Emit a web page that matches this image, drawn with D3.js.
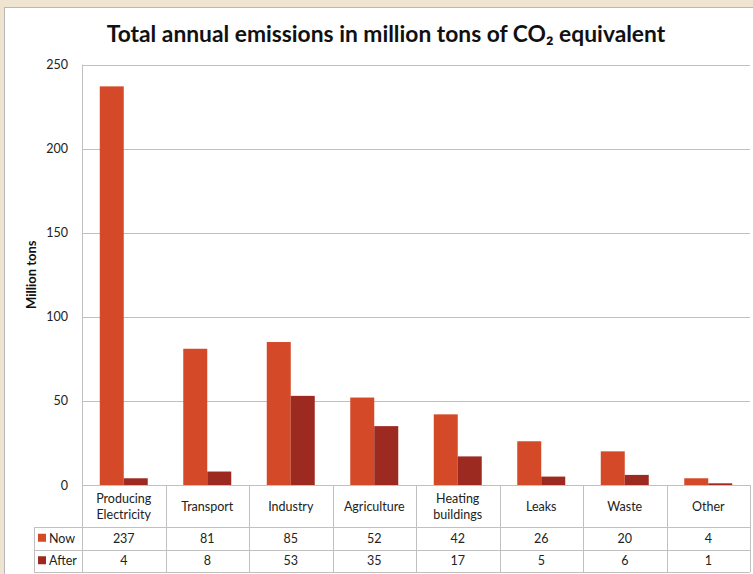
<!DOCTYPE html>
<html lang="en">
<head>
  <meta charset="UTF-8">
  <title>Total annual emissions</title>
  <script src="https://d3js.org/d3.v7.min.js"></script>
  <style>
    html, body { margin: 0; padding: 0; background: #efe4cf; }
    svg { display: block; font-family: Lato, "Open Sans", sans-serif; }
  </style>
</head>
<body>
  <div id="viz"></div>
  <script>
    // Data
    const categories = ['Producing Electricity', 'Transport', 'Industry', 'Agriculture',
                        'Heating buildings', 'Leaks', 'Waste', 'Other'];
    const nowValues = [237, 81, 85, 52, 42, 26, 20, 4];
    const afterValues = [4, 8, 53, 35, 17, 5, 6, 1];
    const seriesNames = ['Now', 'After'];
    const yTicks = [0, 50, 100, 150, 200, 250];

    const width = 753, height = 574;
    const plot = {left: 82, right: 750, top: 64.5, bottom: 485};
    const rows = {header: 527, now: 549.5, after: 572};
    const legendLeft = 34;
    const colors = {Now: '#d44a28', After: '#9c2a21'};
    const gridColor = '#c0c0c0';

    const svg = d3.select('#viz').append('svg')
      .attr('width', width)
      .attr('height', height);

    // background + white panel
    svg.append('rect').attr('width', width).attr('height', height).attr('fill', '#efe4cf');
    svg.append('rect')
      .attr('x', 4.5).attr('y', 7.5)
      .attr('width', width).attr('height', height)
      .attr('fill', '#fff').attr('stroke', '#b8b8b8');

    // Scales
    const x = d3.scaleBand().domain(categories).range([plot.left, plot.right]).padding(0);
    const xSub = d3.scaleBand().domain(seriesNames).range([0, x.bandwidth()])
      .paddingInner(0).paddingOuter(0.74);
    const y = d3.scaleLinear().domain([0, 250]).range([plot.bottom, plot.top]);

    // Gridlines
    svg.append('g')
      .selectAll('line')
      .data(yTicks)
      .join('line')
      .attr('x1', plot.left).attr('x2', plot.right)
      .attr('y1', d => Math.round(y(d)) + 0.5).attr('y2', d => Math.round(y(d)) + 0.5)
      .attr('stroke', gridColor);

    // Y axis labels
    const yAxis = svg.append('g')
      .attr('transform', `translate(${plot.left - 14},0)`)
      .call(d3.axisLeft(y).tickValues(yTicks).tickSize(0).tickPadding(0));
    yAxis.select('.domain').remove();
    yAxis.selectAll('text')
      .attr('font-family', 'Lato, sans-serif')
      .attr('font-size', 12.5)
      .attr('fill', '#222');

    svg.append('text')
      .attr('transform', `translate(36,${(plot.top + plot.bottom) / 2}) rotate(-90)`)
      .attr('text-anchor', 'middle')
      .attr('font-size', 13)
      .attr('font-weight', 'bold')
      .attr('fill', '#111')
      .text('Million tons');

    // Bars
    const barData = categories.flatMap((c, i) => [
      {cat: c, series: 'Now', value: nowValues[i]},
      {cat: c, series: 'After', value: afterValues[i]}
    ]);
    svg.append('g')
      .selectAll('rect')
      .data(barData)
      .join('rect')
      .attr('x', d => x(d.cat) + xSub(d.series))
      .attr('y', d => y(d.value))
      .attr('width', xSub.bandwidth())
      .attr('height', d => y(0) - y(d.value))
      .attr('fill', d => colors[d.series]);

    // Data table lines
    const table = svg.append('g').attr('stroke', gridColor).attr('fill', 'none');
    table.append('line')
      .attr('x1', plot.left + 0.5).attr('x2', plot.left + 0.5)
      .attr('y1', plot.top).attr('y2', rows.after);
    categories.forEach(c => {
      const xr = Math.round(x(c) + x.bandwidth()) + 0.5;
      table.append('line').attr('x1', xr).attr('x2', xr)
        .attr('y1', plot.bottom).attr('y2', rows.after);
    });
    [rows.header, rows.now, rows.after].forEach(r => {
      table.append('line')
        .attr('x1', legendLeft).attr('x2', plot.right)
        .attr('y1', Math.round(r) + 0.5).attr('y2', Math.round(r) + 0.5);
    });
    table.append('line')
      .attr('x1', legendLeft + 0.5).attr('x2', legendLeft + 0.5)
      .attr('y1', rows.header).attr('y2', rows.after);

    // Category labels
    const catLabels = svg.append('g')
      .attr('font-size', 12.5).attr('fill', '#222').attr('text-anchor', 'middle');
    categories.forEach(c => {
      const cx = x(c) + x.bandwidth() / 2;
      const cy = (plot.bottom + rows.header) / 2;
      const words = c.split(' ');
      const t = catLabels.append('text').attr('x', cx);
      if (words.length === 1) {
        t.attr('y', cy + 4.5).text(c);
      } else {
        t.append('tspan').attr('x', cx).attr('y', cy - 3.5).text(words[0]);
        t.append('tspan').attr('x', cx).attr('y', cy + 12.5).text(words.slice(1).join(' '));
      }
    });

    // Table values
    const rowDefs = [
      {name: 'Now', values: nowValues, top: rows.header, bottom: rows.now},
      {name: 'After', values: afterValues, top: rows.now, bottom: rows.after}
    ];
    rowDefs.forEach(r => {
      const cy = (r.top + r.bottom) / 2 + 4.5;
      svg.append('g')
        .selectAll('text')
        .data(r.values)
        .join('text')
        .attr('x', (d, i) => x(categories[i]) + x.bandwidth() / 2)
        .attr('y', cy)
        .attr('text-anchor', 'middle')
        .attr('font-size', 12.5)
        .attr('fill', '#222')
        .text(d => d);
      svg.append('rect')
        .attr('x', legendLeft + 4).attr('y', cy - 9)
        .attr('width', 8).attr('height', 8)
        .attr('fill', colors[r.name]);
      svg.append('text')
        .attr('x', legendLeft + 15).attr('y', cy)
        .attr('font-size', 12.5).attr('fill', '#222')
        .text(r.name);
    });

    // Title
    svg.append('text')
      .attr('x', 386).attr('y', 42)
      .attr('text-anchor', 'middle')
      .attr('font-size', 22.8)
      .attr('font-weight', 'bold')
      .attr('fill', '#111')
      .text('Total annual emissions in million tons of CO\u2082 equivalent');
  </script>
</body>
</html>
